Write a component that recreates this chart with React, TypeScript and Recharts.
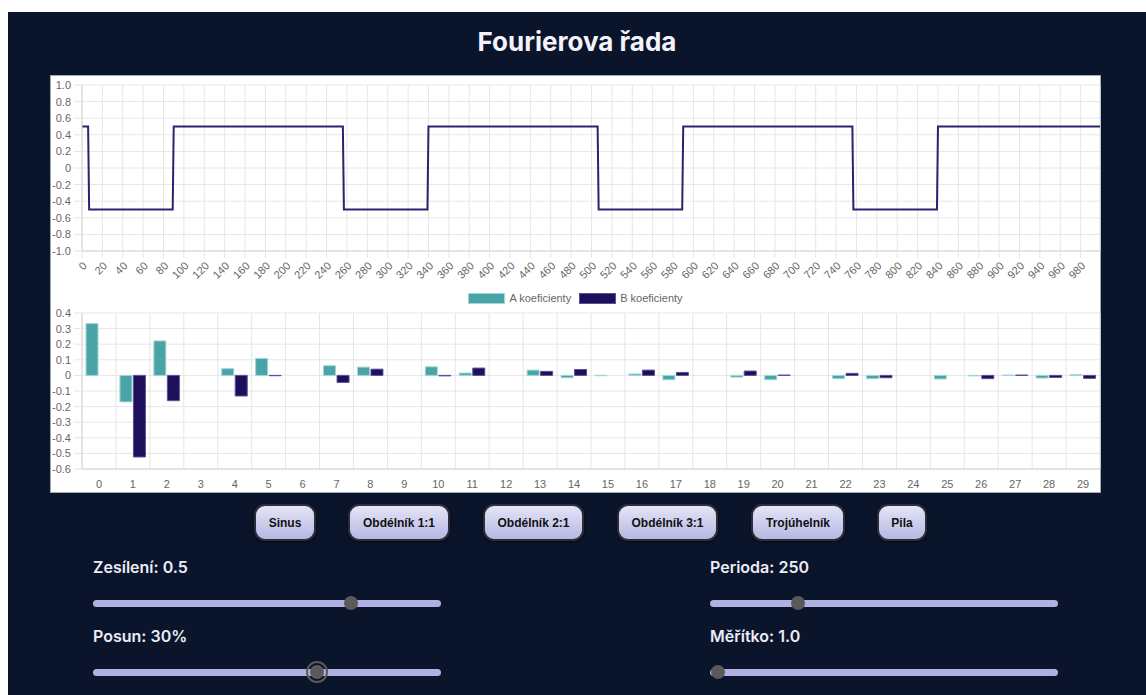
import React from 'react';
import { LineChart, Line, BarChart, Bar, XAxis, YAxis, CartesianGrid, Legend } from 'recharts';

// square wave breakpoints
const waveX = [0, 6, 7, 89, 90, 256, 257, 339, 340, 506, 507, 589, 590, 756, 757, 839, 840, 999];
const waveY = [0.5, 0.5, -0.5, -0.5, 0.5, 0.5, -0.5, -0.5, 0.5, 0.5, -0.5, -0.5, 0.5, 0.5, -0.5, -0.5, 0.5, 0.5];
const xTicks = [0, 20, 40, 60, 80, 100, 120, 140, 160, 180, 200, 220, 240, 260, 280, 300, 320, 340, 360, 380,
  400, 420, 440, 460, 480, 500, 520, 540, 560, 580, 600, 620, 640, 660, 680, 700, 720, 740, 760, 780,
  800, 820, 840, 860, 880, 900, 920, 940, 960, 980];
const waveTicks = [-1, -0.8, -0.6, -0.4, -0.2, 0, 0.2, 0.4, 0.6, 0.8, 1];

// fourier coefficients
const harmonics = ['0', '1', '2', '3', '4', '5', '6', '7', '8', '9', '10', '11', '12', '13', '14',
  '15', '16', '17', '18', '19', '20', '21', '22', '23', '24', '25', '26', '27', '28', '29'];
const aCoef = [0.332, -0.170, 0.221, 0, 0.043, 0.109, 0, 0.062, 0.053, 0, 0.055, 0.015, 0, 0.034, -0.015,
  -0.002, 0.009, -0.028, 0, -0.011, -0.028, 0, -0.021, -0.021, 0, -0.023, -0.003, 0.002, -0.017, 0.004];
const bCoef = [0, -0.523, -0.162, 0, -0.132, -0.002, 0, -0.045, 0.040, 0, -0.003, 0.047, 0, 0.026, 0.038,
  0, 0.034, 0.019, 0, 0.028, 0.002, 0, 0.013, -0.015, 0, 0, -0.021, 0.002, -0.013, -0.019];
const coefTicks = [-0.6, -0.5, -0.4, -0.3, -0.2, -0.1, 0, 0.1, 0.2, 0.3, 0.4];

const buttons = ['Sinus', 'Obdélník 1:1', 'Obdélník 2:1', 'Obdélník 3:1', 'Trojúhelník', 'Pila'];
const buttonLeft = [246, 340, 475, 609, 743, 869];
const buttonWidth = [62, 102, 101, 101, 94, 50];

const waveData = waveX.map((x, i) => ({ x, y: waveY[i] }));
const coefData = harmonics.map((n, i) => ({ n, a: aCoef[i], b: bCoef[i] }));

const CHART_FONT = '"Liberation Sans", Arial, Helvetica, sans-serif';
const UI_FONT = 'Inter, "Noto Sans", sans-serif';
const GRID = '#e6e6e6';
const AXIS = '#d4d4d4';
const tickStyle = { fontSize: 11, fill: '#666', fontFamily: CHART_FONT };
const fmt = (v: number) => (Math.abs(v) < 1e-9 ? '0' : v.toFixed(1));

const A_FILL = '#4aa3a7';
const A_LINE = '#9fd6d8';
const B_FILL = '#1e0f5c';
const B_LINE = '#5b4f96';

function CoefLegend(props: any) {
  const strokes = [A_LINE, B_LINE];
  return (
    <div style={{ display: 'flex', justifyContent: 'center', gap: 8, fontFamily: CHART_FONT, fontSize: 11, color: '#666', lineHeight: '13px' }}>
      {(props.payload || []).map((p: any, i: number) => (
        <div key={p.value} style={{ display: 'flex', alignItems: 'center' }}>
          <span style={{ width: 37, height: 11, background: p.color, border: `1px solid ${strokes[i]}`, boxSizing: 'border-box', marginRight: 4 }} />
          {p.value}
        </div>
      ))}
    </div>
  );
}

const boundaryLines = ({ offset }: any) => {
  const out: number[] = [];
  for (let i = 0; i <= harmonics.length; i++) out.push(offset.left + (i * offset.width) / harmonics.length);
  return out;
};

function Slider({ left, top, width, label, pos, focus }: { left: number; top: number; width: number; label: string; pos: number; focus?: boolean }) {
  return (
    <>
      <div style={{ position: 'absolute', left, top, fontFamily: UI_FONT, fontWeight: 600, fontSize: 16, lineHeight: '20px', color: '#ecebf7', whiteSpace: 'nowrap' }}>{label}</div>
      <div style={{ position: 'absolute', left, top: top + 42.5, width, height: 7, borderRadius: 4, background: '#afb1e3' }} />
      {focus && (
        <div style={{ position: 'absolute', left: pos - 11, top: top + 35, width: 22, height: 22, borderRadius: '50%', border: '2px solid #5a5a5a', boxSizing: 'border-box' }} />
      )}
      <div style={{ position: 'absolute', left: pos - 7, top: top + 39, width: 14, height: 14, borderRadius: '50%', background: '#5a5a5a' }} />
    </>
  );
}

export default function App() {
  return (
    <div style={{ position: 'absolute', left: 8, top: 12, width: 1138, height: 683, background: '#0a152b', overflow: 'hidden' }}>
      <div style={{ position: 'absolute', left: 0, top: 14, width: 1138, textAlign: 'center', fontFamily: UI_FONT, fontWeight: 700, fontSize: 26, lineHeight: '32px', color: '#f4f3fb' }}>
        Fourierova řada
      </div>

      <div style={{ position: 'absolute', left: 42, top: 63, width: 1051, height: 418, background: '#fff', outline: '1px solid #a3a7b0', outlineOffset: -1 }}>
        <LineChart width={1051} height={208} data={waveData} margin={{ top: 10, right: 1, bottom: 0, left: 0 }}>
          <CartesianGrid stroke={GRID} />
          <XAxis type="number" dataKey="x" domain={[0, 999]} ticks={xTicks} interval={0} height={32}
            angle={-45} tick={{ ...tickStyle, textAnchor: 'end' }} tickSize={7} tickMargin={3}
            axisLine={{ stroke: AXIS }} tickLine={{ stroke: GRID }} />
          <YAxis type="number" domain={[-1, 1]} ticks={waveTicks} interval={0} width={32} tickFormatter={fmt}
            tick={tickStyle} tickSize={8} tickMargin={3} axisLine={{ stroke: AXIS }} tickLine={{ stroke: GRID }} />
          <Line type="linear" dataKey="y" stroke="#2b2270" strokeWidth={2} dot={false} isAnimationActive={false} />
        </LineChart>

        <BarChart width={1051} height={210} data={coefData} margin={{ top: 30, right: 1, bottom: 0, left: 0 }} barSize={12} barGap={1.5}>
          <CartesianGrid stroke={GRID} verticalCoordinatesGenerator={boundaryLines} />
          <XAxis dataKey="n" height={24} interval={0} tick={tickStyle} tickSize={8} tickMargin={3} tickLine={false} axisLine={{ stroke: AXIS }} />
          <YAxis type="number" domain={[-0.6, 0.4]} ticks={coefTicks} interval={0} width={32} tickFormatter={fmt}
            tick={tickStyle} tickSize={8} tickMargin={3} axisLine={{ stroke: AXIS }} tickLine={{ stroke: GRID }} />
          <Legend verticalAlign="middle" align="center" layout="horizontal" wrapperStyle={{ top: 9, left: 0, width: 1051 }} content={<CoefLegend />} />
          <Bar dataKey="a" name="A koeficienty" fill={A_FILL} stroke={A_LINE} strokeWidth={1} isAnimationActive={false} />
          <Bar dataKey="b" name="B koeficienty" fill={B_FILL} stroke={B_LINE} strokeWidth={1} isAnimationActive={false} />
        </BarChart>
      </div>

      {buttons.map((b, i) => (
        <div key={b} style={{
          position: 'absolute', left: buttonLeft[i], top: 492, width: buttonWidth[i], height: 37, boxSizing: 'border-box',
          borderRadius: 11, border: '2px solid #2e2e3a', background: 'linear-gradient(#e4e4f7, #b7b8e3)',
          boxShadow: '0 1px 3px rgba(0,0,0,0.6)', display: 'flex', alignItems: 'center', justifyContent: 'center',
          fontFamily: CHART_FONT, fontWeight: 700, fontSize: 12, color: '#111',
        }}>{b}</div>
      ))}

      <Slider left={85} top={545} width={348} label="Zesílení: 0.5" pos={342.7} />
      <Slider left={85} top={614} width={348} label="Posun: 30%" pos={308.7} focus />
      <Slider left={702} top={545} width={348} label="Perioda: 250" pos={790} />
      <Slider left={702} top={614} width={348} label="Měřítko: 1.0" pos={709.7} />
    </div>
  );
}
